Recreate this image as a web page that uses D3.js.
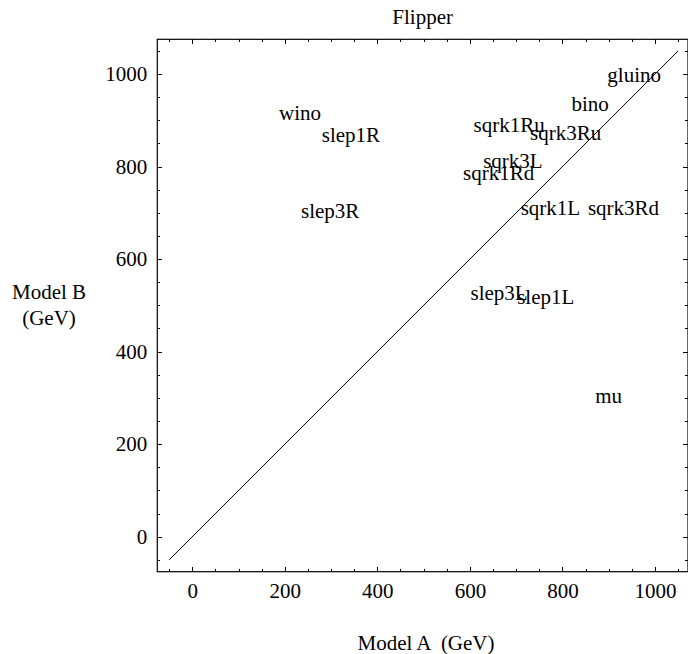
<!DOCTYPE html>
<meta charset="utf-8">
<style>
body {
  margin: 0;
  background: #fff;
}
svg text {
  font-family: "Liberation Serif", "Times New Roman", serif;
  font-size: 21px;
  fill: #000;
}
.axis path { display: none; }
.axis line { stroke: #000; shape-rendering: crispEdges; }
</style>
<body>
<script src="https://d3js.org/d3.v7.min.js"></script>
<script>

// particle names and their masses in the two models
var particles = ["gluino", "bino", "wino", "slep1R", "slep3R", "sqrk1Ru", "sqrk3Ru",
                 "sqrk3L", "sqrk1Rd", "sqrk1L", "sqrk3Rd", "slep3L", "slep1L", "mu"];
var modelA = [955, 860, 233, 343, 298, 685, 807, 693, 662, 774, 932, 663, 764, 900];
var modelB = [995, 932, 914, 867, 701, 888, 870, 809, 784, 708, 708, 525, 516, 301];

var diagonal = [-50, 1050];
var majorTicks = [0, 200, 400, 600, 800, 1000];
var minorTicks = d3.range(-50, 1051, 50);

var width = 688, height = 654;
var frameLeft = 157.3, frameRight = 688, frameTop = 39.3, frameBottom = 571.7;

var x = d3.scaleLinear().domain([-75.6, 1071.4]).range([frameLeft, frameRight]);
var y = d3.scaleLinear().domain([-75.6, 1075]).range([frameBottom, frameTop]);

var svg = d3.select("body").append("svg")
    .attr("width", width)
    .attr("height", height);

// minor ticks on all four sides
svg.append("g").attr("class", "axis")
    .attr("transform", "translate(0," + frameBottom + ")")
    .call(d3.axisBottom(x).tickValues(minorTicks).tickSize(-3).tickFormat(""));
svg.append("g").attr("class", "axis")
    .attr("transform", "translate(0," + frameTop + ")")
    .call(d3.axisTop(x).tickValues(minorTicks).tickSize(-3).tickFormat(""));
svg.append("g").attr("class", "axis")
    .attr("transform", "translate(" + frameLeft + ",0)")
    .call(d3.axisLeft(y).tickValues(minorTicks).tickSize(-3).tickFormat(""));
svg.append("g").attr("class", "axis")
    .attr("transform", "translate(" + frameRight + ",0)")
    .call(d3.axisRight(y).tickValues(minorTicks).tickSize(-3).tickFormat(""));

// major ticks, labels only bottom and left
svg.append("g").attr("class", "axis")
    .attr("transform", "translate(0," + frameBottom + ")")
    .call(d3.axisBottom(x).tickValues(majorTicks).tickSize(-5).tickPadding(11).tickFormat(d3.format("d")));
svg.append("g").attr("class", "axis")
    .attr("transform", "translate(0," + frameTop + ")")
    .call(d3.axisTop(x).tickValues(majorTicks).tickSize(-5).tickFormat(""));
svg.append("g").attr("class", "axis")
    .attr("transform", "translate(" + frameLeft + ",0)")
    .call(d3.axisLeft(y).tickValues(majorTicks).tickSize(-5).tickPadding(10).tickFormat(d3.format("d")));
svg.append("g").attr("class", "axis")
    .attr("transform", "translate(" + frameRight + ",0)")
    .call(d3.axisRight(y).tickValues(majorTicks).tickSize(-5).tickFormat(""));

// frame
svg.append("rect")
    .attr("x", frameLeft)
    .attr("y", frameTop)
    .attr("width", frameRight - frameLeft)
    .attr("height", frameBottom - frameTop)
    .attr("fill", "none")
    .attr("stroke", "#000")
    .attr("stroke-width", 1.2);

// the y = x line
svg.append("line")
    .attr("x1", x(diagonal[0]))
    .attr("y1", y(diagonal[0]))
    .attr("x2", x(diagonal[1]))
    .attr("y2", y(diagonal[1]))
    .attr("stroke", "#000")
    .attr("stroke-width", 1);

// particle labels
svg.selectAll(".label")
    .data(particles)
  .enter().append("text")
    .attr("class", "label")
    .attr("x", function(d, i) { return x(modelA[i]); })
    .attr("y", function(d, i) { return y(modelB[i]); })
    .attr("dy", "6")
    .attr("text-anchor", "middle")
    .text(function(d) { return d; });

svg.append("text")
    .attr("x", (frameLeft + frameRight) / 2)
    .attr("y", 24)
    .attr("text-anchor", "middle")
    .text("Flipper");

svg.append("text")
    .attr("x", 426)
    .attr("y", 650)
    .attr("text-anchor", "middle")
    .style("white-space", "pre")
    .text("Model A  (GeV)");

svg.append("text")
    .attr("x", 49)
    .attr("y", 299)
    .attr("text-anchor", "middle")
    .text("Model B");

svg.append("text")
    .attr("x", 49)
    .attr("y", 325)
    .attr("text-anchor", "middle")
    .text("(GeV)");

</script>
